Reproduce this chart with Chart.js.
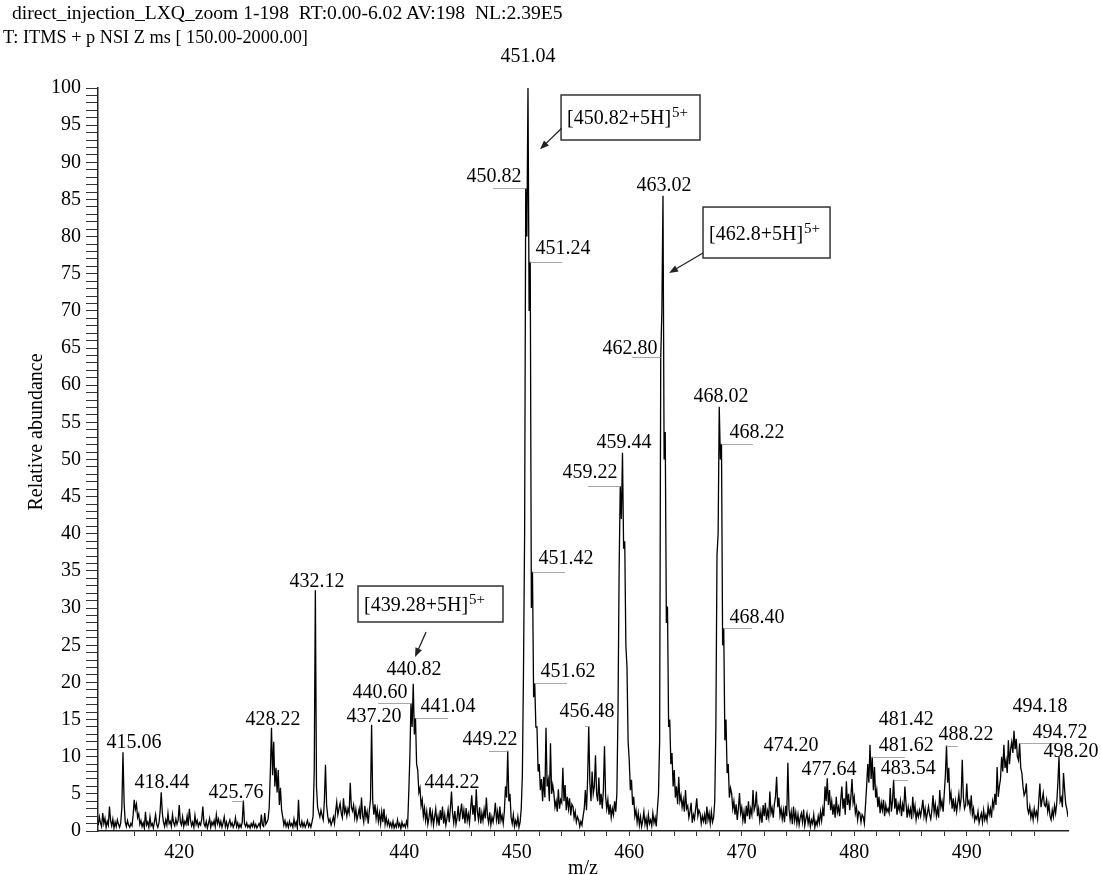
<!DOCTYPE html>
<html>
<head>
<meta charset="utf-8">
<script src="https://cdn.jsdelivr.net/npm/chart.js@4"></script>
<style>
  html, body { margin: 0; padding: 0; background: #fff; }
  #wrap { position: relative; width: 1101px; height: 875px; }
  canvas { position: absolute; left: 0; top: 0; }
  .head { position: absolute; font-family: 'Liberation Serif', 'Times New Roman', serif; line-height: 19px; white-space: pre; color: #000; }
</style>
</head>
<body>
<div id="wrap">
  <canvas id="spektrum" width="1101" height="875"></canvas>
  <div class="head" style="left:12px; top:3px; font-size:19.6px;">direct_injection_LXQ_zoom 1-198  RT:0.00-6.02 AV:198  NL:2.39E5</div>
  <div class="head" style="left:3px; top:28px; font-size:18.3px;">T: ITMS + p NSI Z ms [ 150.00-2000.00]</div>
</div>
<script>
// spektrum, langkah 0.1 m/z; tiap baris = satu satuan m/z (x.0 .. x.9)
const scanStep = 0.1;
const segmentStarts = [412.8, 420, 430, 440, 450, 460, 470, 480, 490];

const abundance410 = [
  0.8, 1.9,
  1.1, 0.6, 2.4, 1.0, 1.7, 0.5, 1.3, 0.8, 3.3, 1.4,
  0.7, 1.6, 0.4, 1.2, 0.6, 1.5, 0.9, 0.5, 1.1, 3.2,
  10.6, 3.8, 1.2, 0.6, 1.4, 0.8, 0.5, 1.0, 0.7, 2.1,
  4.2, 2.9, 3.6, 1.8, 2.3, 0.9, 1.4, 0.6, 1.1, 0.4,
  2.6, 0.8, 1.2, 0.5, 1.9, 0.7, 1.0, 0.4, 1.3, 2.2,
  0.9, 0.5, 1.1, 2.6, 5.2, 2.4, 1.2, 0.6, 1.5, 0.8,
  2.4, 1.0, 1.3, 0.6, 2.2, 1.1, 0.7, 1.6, 0.9, 1.4
];
const abundance420 = [
  3.5, 1.2, 0.8, 1.9, 0.6, 1.3, 0.9, 2.0, 0.7, 3.0,
  1.5, 0.7, 1.2, 0.5, 2.1, 0.9, 1.4, 0.6, 1.1, 0.8,
  1.6, 3.3, 1.0, 0.6, 1.3, 0.4, 1.0, 1.7, 0.5, 1.2,
  0.8, 1.4, 0.6, 2.2, 1.0, 1.6, 0.7, 1.3, 0.5, 1.1,
  1.9, 0.6, 1.2, 0.4, 1.0, 1.5, 0.7, 1.1, 0.5, 0.9,
  1.8, 0.6, 1.1, 0.4, 0.9, 0.5, 1.2, 4.1, 1.0, 0.6,
  1.1, 0.5, 0.8, 0.4, 1.0, 0.6, 1.2, 0.5, 0.9, 0.4,
  0.7, 1.0, 0.5, 2.2, 0.8, 0.6, 2.4, 0.9, 1.2, 1.6,
  3.2, 8.0, 13.9, 7.5, 12.0, 6.0, 8.5, 5.2, 8.2, 3.5,
  5.8, 2.8, 1.9, 0.8, 1.4, 0.6, 1.1, 0.5, 1.3, 0.7
];
const abundance430 = [
  1.0, 0.5, 1.6, 0.7, 1.2, 0.4, 4.2, 0.9, 0.6, 1.3,
  0.6, 1.1, 0.5, 0.9, 1.4, 0.6, 1.0, 0.5, 1.2, 2.0,
  8.0, 32.4, 6.0, 3.2, 2.5, 1.9, 2.8, 2.1, 1.5, 4.0,
  8.9, 3.5, 2.0, 1.2, 1.6, 0.8, 1.3, 1.9, 1.0, 2.6,
  3.9, 2.2, 3.0, 3.7, 2.4, 1.8, 4.4, 2.5, 3.1, 2.0,
  3.0, 2.4, 6.5, 3.2, 2.7, 3.5, 1.8, 2.9, 1.5, 2.2,
  3.0, 1.6, 4.5, 2.1, 1.2, 3.4, 1.8, 2.6, 1.0, 2.8,
  4.2, 14.3, 4.0, 2.2, 3.6, 1.7, 2.9, 1.3, 2.4, 1.0,
  2.6, 1.2, 3.0, 0.9, 1.8, 0.8, 1.4, 0.6, 1.1, 0.5,
  1.3, 0.4, 0.9, 0.5, 1.5, 0.6, 1.0, 0.3, 1.2, 0.6
];
const abundance440 = [
  0.9, 0.5, 1.3, 0.7, 5.0, 10.0, 17.2, 14.0, 19.8, 13.0,
  15.2, 9.0, 8.2, 5.2, 5.8, 3.4, 4.2, 2.0, 3.1, 1.4,
  2.6, 0.9, 1.8, 3.2, 1.2, 2.4, 0.8, 1.9, 3.0, 1.1,
  2.0, 0.7, 2.8, 1.5, 3.3, 1.0, 2.2, 0.8, 1.7, 2.9,
  1.2, 3.0, 5.3, 2.4, 1.1, 2.7, 0.9, 1.8, 3.4, 1.3,
  2.5, 3.7, 1.6, 2.8, 1.0, 3.1, 1.4, 2.3, 1.1, 3.0,
  4.8, 2.2, 3.5, 1.3, 5.6, 2.6, 1.5, 3.2, 1.0, 2.4,
  1.4, 2.9, 1.7, 4.5, 2.0, 1.1, 2.5, 0.8, 1.9, 1.2,
  2.2, 3.8, 1.5, 2.6, 0.9, 3.3, 1.4, 2.1, 1.0, 2.7,
  6.0, 4.5, 10.8, 4.0, 5.0, 1.8, 1.0, 2.2, 0.6, 1.4
];
const abundance450 = [
  0.8, 1.9, 0.5, 1.2, 3.0, 7.5, 21.5, 40.0, 86.5, 80.0,
  100, 70.0, 76.6, 30.0, 34.9, 18.0, 19.9, 14.0, 14.0, 8.0,
  9.0, 5.5, 7.0, 4.0, 7.3, 4.5, 13.9, 6.0, 6.9, 4.0,
  11.8, 5.0, 6.2, 5.1, 3.2, 4.0, 2.6, 5.6, 3.0, 4.2,
  3.8, 8.5, 4.0, 6.2, 2.8, 4.6, 3.0, 4.4, 2.1, 3.6,
  3.3, 1.8, 2.6, 1.2, 1.9, 1.5, 0.6, 1.3, 0.8, 2.0,
  3.0, 5.5, 2.8, 7.0, 14.1, 6.5, 4.0, 8.0, 5.0, 6.0,
  10.2, 5.0, 4.0, 7.2, 3.5, 5.0, 3.0, 5.5, 11.4, 4.6,
  3.0, 4.2, 2.2, 3.6, 1.8, 3.0, 2.2, 4.0, 2.6, 5.0,
  16.0, 35.0, 46.4, 42.0, 50.9, 38.0, 39.0, 25.0, 22.0, 12.0
];
const abundance460 = [
  9.5, 5.5, 6.9, 3.5, 4.6, 2.0, 2.8, 1.2, 2.4, 0.8,
  1.9, 0.6, 1.4, 2.6, 0.9, 1.7, 0.5, 2.2, 1.0, 1.5,
  0.7, 2.4, 1.1, 1.8, 0.6, 2.9, 5.0, 12.0, 63.8, 70.0,
  85.5, 50.0, 53.7, 28.0, 30.2, 14.0, 15.0, 9.0, 10.5, 6.0,
  8.2, 4.5, 6.0, 3.6, 7.3, 4.0, 4.8, 3.2, 4.2, 2.6,
  5.5, 3.0, 3.4, 1.8, 2.6, 3.8, 1.1, 2.2, 1.6, 3.0,
  4.4, 2.0, 2.8, 2.4, 1.0, 2.0, 1.3, 2.2, 0.9, 3.3,
  1.5, 2.4, 1.0, 2.6, 1.2, 1.8, 4.0, 14.0, 37.1, 40.0,
  57.1, 50.0, 52.1, 25.0, 27.3, 12.2, 15.0, 7.8, 9.0, 4.5,
  5.8, 5.1, 3.0, 4.0, 2.2, 3.6, 1.5, 3.0, 5.1, 2.4
];
const abundance470 = [
  3.2, 1.4, 2.6, 1.0, 3.4, 2.0, 4.0, 1.6, 3.0, 2.2,
  5.5, 2.8, 3.4, 5.3, 2.0, 3.0, 1.4, 2.6, 1.1, 3.5,
  2.0, 3.8, 1.5, 2.7, 1.8, 5.3, 2.4, 3.1, 1.8, 3.6,
  4.6, 7.3, 3.2, 4.5, 2.1, 3.0, 1.6, 2.8, 1.2, 3.4,
  2.0, 9.2, 3.0, 1.5, 2.6, 0.9, 3.3, 1.4, 2.5, 1.0,
  2.2, 0.8, 1.8, 2.4, 1.2, 2.9, 0.7, 1.6, 2.4, 1.0,
  1.9, 0.6, 1.5, 1.0, 2.2, 0.5, 1.3, 0.8, 2.0, 1.1,
  2.6, 1.4, 3.0, 2.0, 6.0, 4.0, 7.1, 3.5, 5.5, 2.8,
  4.0, 2.2, 3.6, 1.8, 4.6, 2.5, 3.2, 2.0, 4.2, 6.0,
  3.0, 4.4, 2.2, 6.7, 3.5, 5.0, 2.8, 4.6, 7.0, 3.8
];
const abundance480 = [
  4.6, 2.4, 3.2, 1.5, 2.6, 2.4, 1.2, 2.2, 1.9, 1.0,
  3.5, 6.0, 9.0, 6.5, 11.6, 7.0, 10.0, 5.5, 8.6, 4.5,
  5.5, 3.2, 4.6, 2.4, 3.8, 2.8, 4.2, 2.0, 3.5, 2.6,
  3.0, 2.4, 5.8, 2.6, 4.0, 6.9, 3.0, 4.4, 2.2, 3.6,
  2.8, 4.0, 2.0, 3.6, 2.6, 6.0, 3.8, 1.8, 3.2, 2.2,
  3.0, 1.6, 4.6, 2.4, 3.4, 1.5, 2.6, 1.9, 2.8, 2.0,
  3.0, 4.2, 2.0, 3.0, 1.5, 2.4, 3.3, 2.2, 1.6, 2.8,
  4.8, 2.5, 3.6, 2.0, 3.0, 1.8, 5.5, 3.2, 4.0, 2.6,
  5.0, 7.5, 11.5, 6.5, 8.5, 4.2, 5.1, 3.0, 4.4, 2.6,
  4.0, 2.6, 3.8, 5.0, 3.2, 4.4, 9.6, 4.5, 3.0, 3.5
];
const abundance490 = [
  6.4, 3.6, 4.0, 2.8, 4.8, 2.2, 3.0, 1.4, 2.0, 1.6,
  2.6, 1.1, 1.8, 2.4, 1.2, 2.8, 1.5, 2.2, 1.4, 3.3,
  2.2, 3.0, 1.8, 4.0, 3.2, 5.0, 3.5, 8.6, 4.6, 6.0,
  7.0, 10.0, 8.0, 11.6, 8.5, 9.5, 7.8, 12.2, 9.0, 11.0,
  12.0, 10.5, 13.5, 11.0, 12.4, 10.0, 9.5, 11.8, 8.5, 7.8,
  6.0, 4.8, 5.2, 6.4, 3.0, 2.4, 3.3, 1.8, 2.6, 1.5,
  3.0, 2.0, 2.6, 1.6, 4.0, 6.4, 3.2, 4.2, 5.1, 3.5,
  3.3, 4.2, 2.6, 3.6, 2.0, 1.5, 2.8, 1.9, 3.4, 2.4,
  3.8, 6.5, 10.0, 4.0, 4.5, 3.2, 7.8, 5.5, 3.6, 2.9,
  1.9
];
const segments = [abundance410, abundance420, abundance430, abundance440, abundance450,
                  abundance460, abundance470, abundance480, abundance490];

// sumbu
const xRange = [412.78, 499.0];
const xTickLabels = [420, 440, 450, 460, 470, 480, 490];
const yTickLabels = [0, 5, 10, 15, 20, 25, 30, 35, 40, 45, 50, 55, 60, 65, 70, 75, 80, 85, 90, 95, 100];

// label puncak: [teks, m/z pusat teks, tinggi pusat teks]
const peakLabels = [
  ['451.04', 451.00, 104.17], ['450.82', 447.98, 88.02], ['451.24', 454.12, 78.33],
  ['451.42', 454.38, 36.61], ['451.62', 454.56, 21.40], ['456.48', 456.25, 16.02],
  ['459.22', 456.52, 48.18], ['459.44', 459.54, 52.22], ['462.80', 460.07, 64.87],
  ['463.02', 463.09, 86.81], ['468.02', 468.16, 58.41], ['468.22', 471.36, 53.57],
  ['468.40', 471.36, 28.67], ['432.12', 432.25, 33.51], ['428.22', 428.34, 14.94],
  ['415.06', 415.98, 11.84], ['418.44', 418.47, 6.46], ['425.76', 425.05, 5.11],
  ['437.20', 437.32, 15.34], ['440.60', 437.85, 18.57], ['440.82', 440.87, 21.67],
  ['441.04', 443.89, 16.69], ['449.22', 447.63, 12.25], ['444.22', 444.25, 6.46],
  ['474.20', 474.37, 11.44], ['477.64', 477.75, 8.21], ['481.42', 484.63, 14.94],
  ['481.62', 484.63, 11.44], ['483.54', 484.81, 8.34], ['488.22', 489.94, 13.0],
  ['494.18', 496.52, 16.69], ['494.72', 498.29, 13.19], ['498.20', 499.27, 10.63]
];
// garis penghubung abu-abu: [m/z awal, m/z akhir, tinggi]
const leaderLines = [
  [447.89, 450.8, 86.54], [451.2, 454.03, 76.58], [451.4, 454.29, 34.86],
  [451.6, 454.47, 19.92], [456.07, 456.4, 14.13], [456.34, 459.2, 46.43],
  [460.25, 462.8, 63.80], [468.2, 471.0, 52.09], [468.4, 470.92, 27.32],
  [424.69, 425.7, 4.04], [437.67, 440.6, 17.23], [441.0, 443.89, 15.21],
  [447.54, 449.2, 10.77], [481.6, 484.5, 9.96], [483.5, 484.78, 6.86],
  [494.7, 498.1, 11.84], [488.2, 489.2, 11.5]
];
// kotak ion: [teks, superskrip, m/z kiri, m/z kanan, atas, bawah]
const ionBoxes = [
  ['[450.82+5H]', '5+', 453.94, 466.29, 99.06, 93.0],
  ['[462.8+5H]', '5+', 466.56, 477.85, 83.98, 77.12],
  ['[439.28+5H]', '5+', 435.89, 448.78, 32.97, 28.13]
];
// panah: [m/z awal, tinggi awal, m/z ujung, tinggi ujung]
const ionArrows = [
  [453.99, 94.58, 452.07, 91.75],
  [466.56, 77.79, 463.54, 75.10],
  [441.94, 26.78, 440.96, 23.42]
];

const serif = "'Liberation Serif', 'Times New Roman', serif";

const points = [];
segments.forEach((vals, s) => {
  vals.forEach((v, i) => {
    points.push({ x: Math.round((segmentStarts[s] + i * scanStep) * 100) / 100, y: v });
  });
});

function drawArrow(ctx, x1, y1, x2, y2) {
  const a = Math.atan2(y2 - y1, x2 - x1);
  const len = 9, half = 3.5;
  ctx.beginPath();
  ctx.moveTo(x1, y1);
  ctx.lineTo(x2 - Math.cos(a) * len * 0.7, y2 - Math.sin(a) * len * 0.7);
  ctx.stroke();
  ctx.beginPath();
  ctx.moveTo(x2, y2);
  ctx.lineTo(x2 - len * Math.cos(a) + half * Math.sin(a), y2 - len * Math.sin(a) - half * Math.cos(a));
  ctx.lineTo(x2 - len * Math.cos(a) - half * Math.sin(a), y2 - len * Math.sin(a) + half * Math.cos(a));
  ctx.closePath();
  ctx.fill();
}

const annotasi = {
  id: 'annotasi',
  afterDatasetsDraw(chart) {
    const { ctx, scales: { x, y } } = chart;
    ctx.save();
    // garis penghubung
    ctx.strokeStyle = '#a8a8a8';
    ctx.lineWidth = 1;
    leaderLines.forEach(([m1, m2, lv]) => {
      const py = Math.round(y.getPixelForValue(lv)) + 0.5;
      ctx.beginPath();
      ctx.moveTo(x.getPixelForValue(m1), py);
      ctx.lineTo(x.getPixelForValue(m2), py);
      ctx.stroke();
    });
    // label puncak
    ctx.fillStyle = '#000';
    ctx.font = '20px ' + serif;
    ctx.textAlign = 'center';
    ctx.textBaseline = 'middle';
    peakLabels.forEach(([t, m, lv]) => ctx.fillText(t, x.getPixelForValue(m), y.getPixelForValue(lv)));

    // kotak ion
    ctx.strokeStyle = '#333';
    ctx.lineWidth = 1.5;
    ionBoxes.forEach(([t, sup, m1, m2, top, bot]) => {
      const x1 = x.getPixelForValue(m1), x2 = x.getPixelForValue(m2);
      const y1 = y.getPixelForValue(top), y2 = y.getPixelForValue(bot);
      ctx.strokeRect(x1, y1, x2 - x1, y2 - y1);
      const base = (y1 + y2) / 2 + 7;
      ctx.textAlign = 'left';
      ctx.textBaseline = 'alphabetic';
      ctx.font = '20px ' + serif;
      ctx.fillText(t, x1 + 6, base);
      const w = ctx.measureText(t).width;
      ctx.font = '15px ' + serif;
      ctx.fillText(sup, x1 + 6 + w + 1, base - 7);
    });

    // panah
    ctx.strokeStyle = '#222';
    ctx.fillStyle = '#222';
    ctx.lineWidth = 1.3;
    ionArrows.forEach(([m1, v1, m2, v2]) => {
      drawArrow(ctx, x.getPixelForValue(m1), y.getPixelForValue(v1), x.getPixelForValue(m2), y.getPixelForValue(v2));
    });

    // judul sumbu y
    ctx.fillStyle = '#000';
    ctx.font = '20px ' + serif;
    ctx.textAlign = 'center';
    ctx.textBaseline = 'middle';
    ctx.translate(37, 432);
    ctx.rotate(-Math.PI / 2);
    ctx.fillText('Relative abundance', 0, 0);
    ctx.restore();
  }
};

const ctx = document.getElementById('spektrum').getContext('2d');
const chart = new Chart(ctx, {
  type: 'line',
  data: {
    datasets: [{
      data: points,
      borderColor: '#000',
      borderWidth: 1.3,
      pointRadius: 0,
      tension: 0,
      fill: false
    }]
  },
  options: {
    responsive: false,
    animation: false,
    devicePixelRatio: 1,
    layout: { padding: { top: 88, right: 33, bottom: 0, left: 0 } },
    plugins: { legend: { display: false }, tooltip: { enabled: false } },
    scales: {
      x: {
        type: 'linear',
        min: xRange[0],
        max: xRange[1],
        ticks: {
          stepSize: 2,
          autoSkip: false,
          maxRotation: 0,
          padding: 5,
          color: '#000',
          font: { family: serif, size: 20 },
          callback: (v) => xTickLabels.includes(v) ? String(v) : ''
        },
        afterBuildTicks: (axis) => {
          axis.ticks = axis.ticks.filter(t => Number.isInteger(t.value) && t.value % 2 === 0);
        },
        grid: { drawOnChartArea: false, drawTicks: true, tickLength: 5, color: '#333', tickWidth: 1 },
        border: { display: true, color: '#222', width: 1.5 },
        title: { display: true, text: 'm/z', color: '#000', font: { family: serif, size: 20, lineHeight: 1 }, padding: { top: 0, bottom: -4 } },
        afterFit: (s) => { s.height = 44; }
      },
      y: {
        min: 0,
        max: 100,
        ticks: {
          stepSize: 1,
          autoSkip: false,
          padding: 5,
          color: '#000',
          font: { family: serif, size: 20 },
          callback: (v) => yTickLabels.includes(v) ? String(v) : ''
        },
        grid: { drawOnChartArea: false, drawTicks: true, tickLength: 12, color: '#333', tickWidth: 1 },
        border: { display: true, color: '#222', width: 1.5 },
        afterFit: (s) => { s.width = 98; }
      }
    }
  },
  plugins: [annotasi]
});
</script>
</body>
</html>
